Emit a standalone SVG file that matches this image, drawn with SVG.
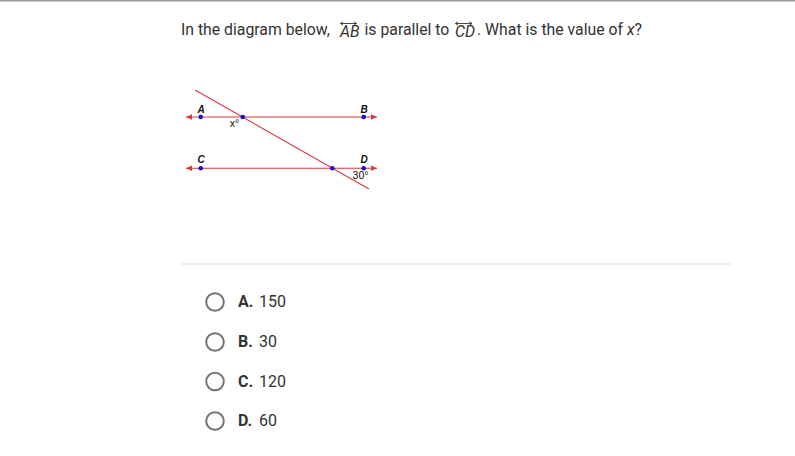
<svg xmlns="http://www.w3.org/2000/svg" width="795" height="456" viewBox="0 0 795 456">
<style>
.t{font-family:Roboto,"Liberation Sans",sans-serif;fill:#333;font-size:15.8px}
.o{font-family:Roboto,"Liberation Sans",sans-serif;fill:#333;font-size:16px}
.b{font-weight:bold}
.ln{stroke:#d8383f;stroke-width:1.1;fill:none}
.ov{stroke:#333;stroke-width:0.9;fill:none}
.dot{fill:#1010d0}
.lab{font-family:"Liberation Sans",Arial,sans-serif;font-size:10px;font-weight:bold;font-style:italic;fill:#111;text-anchor:middle}
.ang{font-family:"Liberation Sans",Arial,sans-serif;font-size:10.5px;fill:#111;text-anchor:middle}
.rad{fill:#fff;stroke:#757575;stroke-width:2}
</style>
<defs>
<marker id="ah" viewBox="0 0 10 10" refX="10" refY="5" markerWidth="6" markerHeight="6" orient="auto-start-reverse" markerUnits="userSpaceOnUse">
<path d="M0,0.5 L10,5 L0,9.5 Z" fill="#d8383f"/>
</marker>
</defs>
<rect x="0" y="0" width="795" height="456" fill="#fff"/>
<rect x="0" y="0" width="795" height="1.5" fill="#999"/>
<g id="question">
<text class="t" x="181" y="34.5">In the diagram below,</text>
<text class="t" x="340" y="36.5" font-size="11.5" font-style="italic">AB</text>
<path class="ov" d="M340.5,23.5 H356.5 M343,21.8 L340.5,23.5 L343,25.2 M354,21.8 L356.5,23.5 L354,25.2"/>
<text class="t" x="364.5" y="34.5">is parallel to</text>
<text class="t" x="455" y="36.5" font-size="11.5" font-style="italic">CD</text>
<path class="ov" d="M455.5,23.5 H472 M458,21.8 L455.5,23.5 L458,25.2 M469.5,21.8 L472,23.5 L469.5,25.2"/>
<text class="t" x="477" y="34.5">. What is the value of <tspan font-style="italic">x</tspan>?</text>
</g>
<g id="connectors">
<line id="lineAB" class="ln" x1="186" y1="117" x2="377" y2="117" marker-start="url(#ah)" marker-end="url(#ah)"/>
<line id="lineCD" class="ln" x1="186" y1="168.3" x2="377" y2="168.3" marker-start="url(#ah)" marker-end="url(#ah)"/>
<line id="transversal" class="ln" x1="195" y1="90" x2="369" y2="189"/>
</g>
<g id="pointA"><circle class="dot" cx="200.7" cy="117" r="2.3"/><text class="lab" x="201" y="112.7">A</text></g>
<g id="pointB"><circle class="dot" cx="363.7" cy="117" r="2.3"/><text class="lab" x="364" y="112.7">B</text></g>
<g id="pointC"><circle class="dot" cx="200.7" cy="168.3" r="2.3"/><text class="lab" x="201" y="163.3">C</text></g>
<g id="pointD"><circle class="dot" cx="363.7" cy="168.3" r="2.3"/><text class="lab" x="364" y="163.3">D</text></g>
<g id="pointE"><circle class="dot" cx="242.7" cy="117" r="2.3"/><text class="ang" x="234.5" y="126.8">x°</text></g>
<g id="pointF"><circle class="dot" cx="332.3" cy="168.3" r="2.3"/><text class="ang" x="360.5" y="179.3">30°</text></g>
<rect x="181" y="263.5" width="550" height="1" fill="#ddd"/>
<g id="optA"><circle class="rad" cx="215" cy="302" r="8.8"/><text class="o" x="238" y="307.3"><tspan class="b">A.</tspan> <tspan x="259">150</tspan></text></g>
<g id="optB"><circle class="rad" cx="215" cy="342" r="8.8"/><text class="o" x="238" y="347.3"><tspan class="b">B.</tspan> <tspan x="259">30</tspan></text></g>
<g id="optC"><circle class="rad" cx="215" cy="381.5" r="8.8"/><text class="o" x="238" y="386.8"><tspan class="b">C.</tspan> <tspan x="259">120</tspan></text></g>
<g id="optD"><circle class="rad" cx="215" cy="421" r="8.8"/><text class="o" x="238" y="426.3"><tspan class="b">D.</tspan> <tspan x="259">60</tspan></text></g>
</svg>
